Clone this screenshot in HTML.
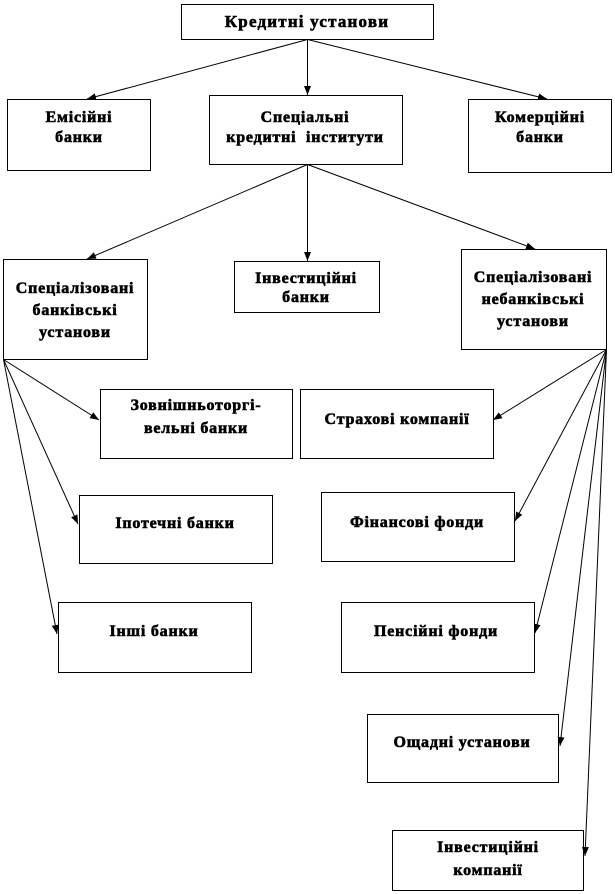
<!DOCTYPE html>
<html>
<head>
<meta charset="utf-8">
<style>
html,body{margin:0;padding:0;background:#fff;}
svg{display:block;}
text{font-family:"Liberation Serif","DejaVu Serif",serif;font-weight:bold;font-size:16px;fill:#000;letter-spacing:0.8px;stroke:#000;stroke-width:0.6px;}
</style>
</head>
<body>
<svg width="615" height="894" viewBox="0 0 615 894" xmlns="http://www.w3.org/2000/svg">
<defs>
<marker id="ah" markerUnits="userSpaceOnUse" markerWidth="9" markerHeight="7" refX="9" refY="3.5" orient="auto">
<path d="M0,0 L9,3.5 L0,7 z" fill="#000"/>
</marker>
</defs>
<g fill="#fff" stroke="#000" stroke-width="1">
<rect x="181.5" y="4.5" width="252" height="35"/>
<rect x="7.5" y="99.5" width="143" height="71"/>
<rect x="209.5" y="95.5" width="193" height="69"/>
<rect x="468.5" y="99.5" width="143" height="73"/>
<rect x="3.5" y="259.5" width="144" height="100"/>
<rect x="234.5" y="261.5" width="145" height="51"/>
<rect x="461.5" y="249.5" width="145" height="100"/>
<rect x="100.5" y="389.5" width="192" height="69"/>
<rect x="300.5" y="389.5" width="193" height="69"/>
<rect x="79.5" y="495.5" width="193" height="68"/>
<rect x="321.5" y="492.5" width="193" height="69"/>
<rect x="58.5" y="602.5" width="193" height="70"/>
<rect x="341.5" y="602.5" width="193" height="70"/>
<rect x="367.5" y="714.5" width="191" height="68"/>
<rect x="392.5" y="830.5" width="191" height="60"/>
</g>
<g stroke="#000" stroke-width="1" fill="none" marker-end="url(#ah)">
<line x1="307.5" y1="39.5" x2="87" y2="99"/>
<line x1="307.5" y1="39.5" x2="307.5" y2="95"/>
<line x1="307.5" y1="39.5" x2="547" y2="99"/>
<line x1="307.5" y1="164.5" x2="87" y2="259"/>
<line x1="307.5" y1="164.5" x2="307.5" y2="261"/>
<line x1="307.5" y1="164.5" x2="535" y2="249"/>
<line x1="3.5" y1="359.5" x2="99" y2="420"/>
<line x1="3.5" y1="359.5" x2="78" y2="524"/>
<line x1="3.5" y1="359.5" x2="57" y2="634"/>
<line x1="606.5" y1="349.5" x2="493" y2="420"/>
<line x1="606.5" y1="349.5" x2="515" y2="521"/>
<line x1="606.5" y1="349.5" x2="535" y2="633"/>
<line x1="606.5" y1="349.5" x2="560" y2="746"/>
<line x1="606.5" y1="349.5" x2="585" y2="856"/>
</g>
<g text-anchor="middle">
<text x="307" y="27" style="font-size:17px;letter-spacing:1.2px">Кредитні установи</text>
<text x="79" y="122">Емісійні</text>
<text x="79" y="142">банки</text>
<text x="305" y="122">Спеціальні</text>
<text x="305" y="142" xml:space="preserve">кредитні  інститути</text>
<text x="540" y="122">Комерційні</text>
<text x="540" y="142">банки</text>
<text x="75" y="293">Спеціалізовані</text>
<text x="75" y="315">банківські</text>
<text x="75" y="337">установи</text>
<text x="306" y="283">Інвестиційні</text>
<text x="306" y="302">банки</text>
<text x="533" y="282">Спеціалізовані</text>
<text x="533" y="304">небанківські</text>
<text x="533" y="326">установи</text>
<text x="196" y="410">Зовнішньоторгі-</text>
<text x="196" y="433">вельні банки</text>
<text x="397" y="424">Страхові компанії</text>
<text x="175" y="528">Іпотечні банки</text>
<text x="417" y="527">Фінансові фонди</text>
<text x="154" y="636">Інші банки</text>
<text x="436" y="636">Пенсійні фонди</text>
<text x="462" y="747">Ощадні установи</text>
<text x="488" y="852">Інвестиційні</text>
<text x="488" y="875">компанії</text>
</g>
</svg>
</body>
</html>
